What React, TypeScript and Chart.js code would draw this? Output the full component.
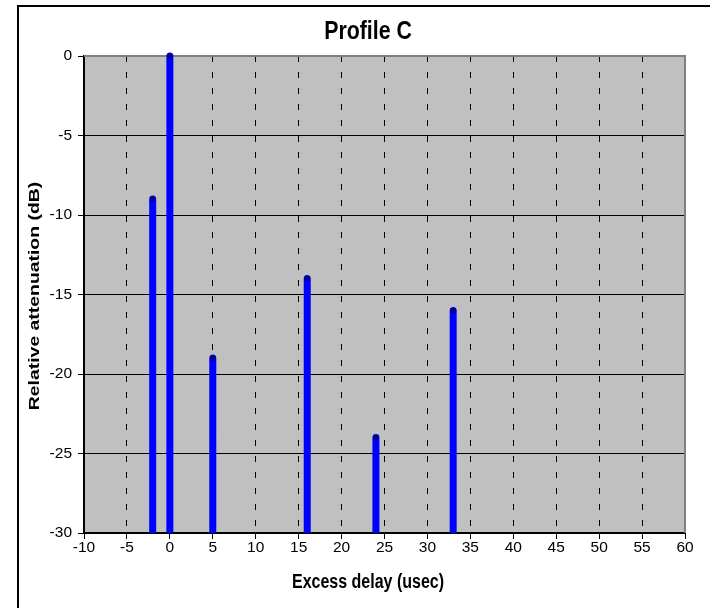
import { useEffect, useRef } from 'react';
import { Chart, registerables } from 'chart.js';

Chart.register(...registerables);

// ---- data ----
const delays = [-2, 0, 5, 16, 24, 33];
const attenuation = [-9, 0, -19, -14, -24, -16];
const xMin = -10;
const xMax = 60;
const xStep = 5;
const yMin = -30;
const yMax = 0;
const yStep = 5;
const chartTitle = 'Profile C';
const xTitle = 'Excess delay (usec)';
const yTitle = 'Relative attenuation (dB)';

const tickFont = "'Liberation Sans Narrow', 'Liberation Sans', Arial, sans-serif";

const framePlugin = {
  id: 'frame',
  beforeDraw(chart: any) {
    const { ctx, chartArea: a } = chart;
    ctx.save();
    ctx.fillStyle = '#ffffff';
    ctx.fillRect(0, 0, chart.width, chart.height);
    ctx.fillStyle = '#C0C0C0';
    ctx.fillRect(a.left, a.top, a.right - a.left, a.bottom - a.top);
    // outer frame (top and left edges visible)
    ctx.strokeStyle = '#000';
    ctx.lineWidth = 2;
    ctx.beginPath();
    ctx.moveTo(18, chart.height);
    ctx.lineTo(18, 6);
    ctx.lineTo(chart.width, 6);
    ctx.stroke();
    ctx.restore();
  },
  beforeDatasetsDraw(chart: any) {
    const { ctx, chartArea: a } = chart;
    ctx.save();
    ctx.strokeStyle = '#808080';
    ctx.lineWidth = 2;
    ctx.beginPath();
    ctx.moveTo(a.left, a.top);
    ctx.lineTo(a.right, a.top);
    ctx.lineTo(a.right, a.bottom);
    ctx.stroke();
    ctx.restore();
  },
  afterDraw(chart: any) {
    const { ctx } = chart;
    ctx.save();
    ctx.fillStyle = '#000';
    ctx.textAlign = 'center';
    ctx.textBaseline = 'middle';
    // chart title
    ctx.save();
    ctx.translate(368, 32);
    ctx.scale(0.82, 1);
    ctx.font = "bold 26px 'Liberation Sans', Arial, sans-serif";
    ctx.fillText(chartTitle, 0, 0);
    ctx.restore();
    // x axis title
    ctx.save();
    ctx.translate(368, 582);
    ctx.scale(0.8, 1);
    ctx.font = "bold 20px 'Liberation Sans', Arial, sans-serif";
    ctx.fillText(xTitle, 0, 0);
    ctx.restore();
    // y axis title
    ctx.save();
    ctx.translate(35, 296);
    ctx.rotate(-Math.PI / 2);
    ctx.scale(1, 0.8);
    ctx.font = "bold 19.4px 'Liberation Sans', Arial, sans-serif";
    ctx.fillText(yTitle, 0, 0);
    ctx.restore();
    ctx.restore();
  },
};

export default function App() {
  const canvasRef = useRef<HTMLCanvasElement>(null);

  useEffect(() => {
    const canvas = canvasRef.current;
    if (!canvas) return;
    const stemPoints: any[] = [];
    delays.forEach((d, i) => {
      stemPoints.push({ x: d, y: yMin });
      stemPoints.push({ x: d, y: attenuation[i] });
      stemPoints.push({ x: d, y: null });
    });

    const chart = new Chart(canvas, {
      type: 'line',
      data: {
        datasets: [
          {
            data: stemPoints,
            borderColor: '#0000FF',
            borderWidth: 7,
            borderCapStyle: 'round',
            tension: 0,
            spanGaps: false,
            clip: { left: 0, top: 10, right: 0, bottom: 0 },
            pointRadius: (c: any) => (c.raw && c.raw.y !== null && c.raw.y !== yMin ? 3 : 0),
            pointBackgroundColor: '#000090',
            pointBorderWidth: 0,
            pointHoverRadius: 0,
          } as any,
        ],
      },
      options: {
        animation: false,
        responsive: false,
        devicePixelRatio: 1,
        layout: { padding: { left: 0, top: 56, right: 25, bottom: 0 } },
        plugins: {
          legend: { display: false },
          title: { display: false },
          tooltip: { enabled: false },
        },
        events: [],
        scales: {
          x: {
            type: 'linear',
            min: xMin,
            max: xMax,
            afterFit: (s: any) => {
              s.height = 75;
            },
            ticks: {
              stepSize: xStep,
              color: '#000',
              font: { family: tickFont, size: 15.5 },
              padding: -1,
              maxRotation: 0,
              autoSkip: false,
            },
            grid: {
              color: (c: any) =>
                c.tick && (c.tick.value === xMin || c.tick.value === xMax) ? 'rgba(0,0,0,0)' : '#000',
              lineWidth: 1,
              tickColor: '#000',
              tickLength: 6,
              tickBorderDash: [],
            },
            border: { display: true, color: '#000', width: 2, dash: [6, 10] },
          },
          y: {
            type: 'linear',
            min: yMin,
            max: yMax,
            afterFit: (s: any) => {
              s.width = 84;
            },
            ticks: {
              stepSize: yStep,
              color: '#000',
              font: { family: tickFont, size: 15.5 },
              padding: 6,
            },
            grid: {
              color: (c: any) => (c.tick && c.tick.value === yMax ? 'rgba(0,0,0,0)' : '#000'),
              lineWidth: 1,
              tickColor: '#000',
              tickLength: 6,
            },
            border: { display: true, color: '#000', width: 2 },
          },
        },
      } as any,
      plugins: [framePlugin],
    });
    return () => chart.destroy();
  }, []);

  return (
    <div style={{ position: 'absolute', left: 0, top: 0, width: 710, height: 608 }}>
      <canvas ref={canvasRef} width={710} height={608} style={{ display: 'block' }} />
    </div>
  );
}
